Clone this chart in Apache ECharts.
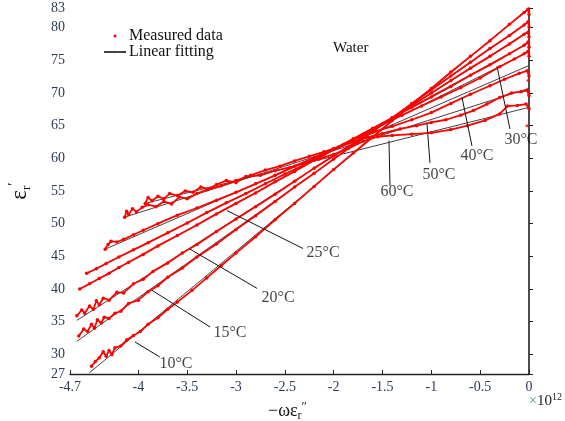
<!DOCTYPE html>
<html><head><meta charset="utf-8">
<script src="https://cdn.jsdelivr.net/npm/echarts@6/dist/echarts.min.js"></script>
<style>html,body{margin:0;padding:0;background:#fff}#c{width:565px;height:421px}</style>
</head><body><div id="c"></div>
<script>
const temps = ['10°C','15°C','20°C','25°C','30°C','40°C','50°C','60°C'];
const xTicks = [-4.7,-4.5,-4,-3.5,-3,-2.5,-2,-1.5,-1,-0.5,0];
const yTicks = [27,30,35,40,45,50,55,60,65,70,75,80,83];

const m10 = [[-4.48,28.2],[-4.44,28.9],[-4.40,29.5],[-4.36,30.4],[-4.33,29.7],[-4.30,30.6],[-4.27,30.0],[-4.24,31.0],[-4.18,31.3],[-4.12,32.2],[-4.05,32.9],[-3.98,33.5],[-3.90,34.6],[-3.80,35.6],[-3.70,36.9],[-3.60,38.0],[-3.45,39.8],[-3.30,41.7],[-3.15,43.6],[-3.00,45.5],[-2.80,48.0],[-2.60,50.6],[-2.40,53.1],[-2.20,55.7],[-2.00,58.3],[-1.80,60.8],[-1.60,63.3],[-1.40,65.8],[-1.20,68.3],[-1.00,70.7],[-0.80,73.2],[-0.60,75.6],[-0.40,78.0],[-0.20,80.5],[-0.05,82.3],[-0.01,82.8],[0,82.0]];
const m15 = [[-4.61,32.8],[-4.56,33.9],[-4.52,33.5],[-4.48,34.6],[-4.45,34.0],[-4.42,35.3],[-4.38,34.8],[-4.35,35.7],[-4.30,35.5],[-4.24,36.3],[-4.18,36.6],[-4.10,37.8],[-4.00,38.3],[-3.90,39.6],[-3.80,40.5],[-3.70,41.8],[-3.55,43.2],[-3.40,44.9],[-3.20,46.9],[-3.00,49.1],[-2.80,51.2],[-2.60,53.4],[-2.40,55.6],[-2.20,57.7],[-2.00,59.9],[-1.80,62.0],[-1.60,64.1],[-1.40,66.2],[-1.20,68.4],[-1.00,70.5],[-0.80,72.6],[-0.60,74.7],[-0.40,76.8],[-0.20,78.8],[-0.05,80.4],[-0.01,80.9],[0,80.1]];
const m20 = [[-4.63,35.9],[-4.58,36.8],[-4.55,36.3],[-4.50,37.4],[-4.46,36.9],[-4.43,38.2],[-4.40,37.6],[-4.36,38.6],[-4.30,38.3],[-4.22,39.5],[-4.15,39.4],[-4.05,40.8],[-3.95,41.5],[-3.85,42.7],[-3.70,44.0],[-3.55,45.5],[-3.40,46.8],[-3.20,48.8],[-3.00,50.7],[-2.80,52.6],[-2.60,54.5],[-2.40,56.5],[-2.20,58.5],[-2.00,60.4],[-1.80,62.3],[-1.60,64.3],[-1.40,66.2],[-1.20,68.1],[-1.00,70.0],[-0.80,71.9],[-0.60,73.8],[-0.40,75.6],[-0.20,77.5],[-0.05,79.0],[-0.01,79.3],[0,78.6]];
const m25 = [[-4.60,40.0],[-4.50,40.8],[-4.40,41.6],[-4.30,42.4],[-4.20,43.3],[-4.10,44.1],[-3.95,45.3],[-3.80,46.6],[-3.60,48.2],[-3.40,49.8],[-3.20,51.5],[-3.00,53.1],[-2.80,54.7],[-2.60,56.4],[-2.40,58.0],[-2.20,59.7],[-2.00,61.4],[-1.80,63.0],[-1.60,64.6],[-1.40,66.2],[-1.20,67.8],[-1.00,69.4],[-0.80,71.0],[-0.60,72.7],[-0.40,74.3],[-0.20,76.0],[-0.05,77.3],[-0.01,77.8],[0,77.0]];
const m30 = [[-4.53,42.4],[-4.43,43.1],[-4.33,43.9],[-4.20,44.9],[-4.05,46.0],[-3.90,47.1],[-3.70,48.6],[-3.50,50.1],[-3.30,51.7],[-3.10,53.2],[-2.90,54.6],[-2.70,56.1],[-2.50,57.6],[-2.30,59.0],[-2.10,60.5],[-1.90,62.1],[-1.70,63.7],[-1.50,65.2],[-1.30,66.6],[-1.10,68.0],[-0.90,69.4],[-0.70,70.8],[-0.50,72.3],[-0.30,74.0],[-0.15,75.2],[-0.05,76.0],[-0.01,76.4],[0,75.6]];
const m40 = [[-4.34,46.1],[-4.31,46.8],[-4.28,47.3],[-4.22,47.2],[-4.15,47.6],[-4.05,48.3],[-3.95,49.0],[-3.80,50.0],[-3.60,51.3],[-3.40,52.4],[-3.20,53.6],[-3.00,54.8],[-2.80,56.1],[-2.60,57.4],[-2.40,58.8],[-2.20,60.1],[-2.00,61.5],[-1.80,62.8],[-1.60,64.0],[-1.40,64.9],[-1.20,65.9],[-1.00,67.0],[-0.80,68.4],[-0.60,69.8],[-0.40,71.1],[-0.25,72.1],[-0.10,73.0],[-0.02,73.4],[0,72.6]];
const m50 = [[-4.14,51.0],[-4.12,51.9],[-4.10,51.4],[-4.06,52.3],[-4.02,51.8],[-3.96,52.5],[-3.90,52.9],[-3.82,52.6],[-3.74,53.4],[-3.66,53.0],[-3.58,54.1],[-3.50,53.8],[-3.40,54.6],[-3.30,55.2],[-3.15,55.8],[-3.00,56.6],[-2.85,57.4],[-2.70,58.2],[-2.55,58.8],[-2.40,59.6],[-2.25,60.3],[-2.10,61.0],[-1.95,61.7],[-1.80,62.5],[-1.65,63.2],[-1.50,63.8],[-1.32,64.5],[-1.15,65.0],[-1.00,65.5],[-0.85,65.9],[-0.70,66.6],[-0.57,67.3],[-0.43,68.3],[-0.30,69.3],[-0.18,70.0],[-0.08,70.2],[-0.02,70.4],[0,69.6]];
const m60 = [[-3.93,53.1],[-3.90,54.0],[-3.86,53.5],[-3.80,54.2],[-3.74,53.8],[-3.68,54.6],[-3.60,54.3],[-3.52,55.0],[-3.44,54.8],[-3.36,55.6],[-3.28,55.3],[-3.20,56.0],[-3.10,56.6],[-3.00,56.3],[-2.90,57.2],[-2.75,57.4],[-2.60,58.1],[-2.45,58.6],[-2.30,59.3],[-2.15,59.9],[-2.00,60.6],[-1.85,61.5],[-1.70,62.6],[-1.55,63.3],[-1.40,63.5],[-1.20,63.7],[-1.00,63.9],[-0.80,64.4],[-0.63,65.0],[-0.45,65.8],[-0.30,66.8],[-0.22,68.0],[-0.12,68.1],[-0.03,68.3],[0,67.6]];
const strayPoints = [[-0.01,71.9],[-0.02,65.0]];

const fit10 = [[-4.50,27.2],[0,83.0]];
const fit15 = [[-4.63,32.0],[0,81.0]];
const fit20 = [[-4.63,35.2],[0,79.5]];
const fit25 = [[-4.60,40.0],[0,77.7]];
const fit30 = [[-4.53,42.4],[0,76.3]];
const fit40 = [[-4.34,46.1],[0,74.2]];
const fit50 = [[-4.14,51.0],[0,70.7]];
const fit60 = [[-3.93,53.1],[0,67.8]];

const labelPos = [[-3.615,28.5],[-3.062,33.3],[-2.57,38.7],[-2.109,45.5],[-0.082,62.9],[-0.533,60.4],[-0.922,57.5],[-1.352,54.9]];
const leaders = [
  [[-3.78,29.6],[-4.034,31.9]],
  [[-3.266,34.2],[-3.86,39.8]],
  [[-2.785,40.1],[-3.471,46.1]],
  [[-2.314,46.2],[-3.092,52.0]],
  [[-0.195,64.5],[-0.328,74.1]],
  [[-0.584,61.9],[-0.686,69.3]],
  [[-1.014,59.3],[-1.045,65.4]],
  [[-1.423,55.8],[-1.434,62.7]]
];

const measured = [m10,m15,m20,m25,m30,m40,m50,m60];
const fits = [fit10,fit15,fit20,fit25,fit30,fit40,fit50,fit60];
const SERIF = 'Liberation Serif';
const RED = '#ff0000';
const series = [];
fits.forEach((d,i)=>{
  series.push({name: i===0?'Linear fitting':'f'+i, type:'line', data:d, symbol:'none',
    lineStyle:{color:'#444',width:1}, itemStyle:{color:'#444'}, z:2, silent:true, animation:false});
});
measured.forEach((d,i)=>{
  series.push({name: i===0?'Measured data':'m'+i, type:'line', data:d, symbol:'circle', symbolSize:3.5,
    showAllSymbol:true, itemStyle:{color:RED}, lineStyle:{color:RED,width:1.8}, z:3, silent:true, animation:false});
});
series.push({name:'stray', type:'scatter', data:strayPoints, symbolSize:3, itemStyle:{color:RED}, z:3, silent:true, animation:false});
leaders.forEach((d,i)=>{
  series.push({name:'l'+i, type:'line', data:d, symbol:'none', lineStyle:{color:'#111',width:1}, z:4, silent:true, animation:false});
});
series.push({name:'labels', type:'scatter', symbolSize:0, silent:true, animation:false, z:5,
  data: labelPos.map((p,i)=>({value:p, name:temps[i]})),
  label:{show:true, position:'inside', formatter:'{b}', color:'#111', fontFamily:SERIF, fontSize:16}});

const chart = echarts.init(document.getElementById('c'), null, {renderer:'canvas'});
chart.setOption({
  animation:false,
  backgroundColor:'#fff',
  grid:{left:70, right:36, top:8, bottom:47, containLabel:false, outerBoundsMode:'none'},
  legend:{
    orient:'vertical', left:98, top:23, itemWidth:22, itemHeight:3, itemGap:0,
    selectedMode:false,
    textStyle:{fontFamily:SERIF, fontSize:16, color:'#111', lineHeight:15, padding:[0,0,0,-2]},
    data:[{name:'Measured data', icon:'circle'}, {name:'Linear fitting'}]
  },
  xAxis:{type:'value', min:-4.7, max:0,
    axisLine:{show:true, lineStyle:{color:'#222', width:1.3}},
    axisTick:{show:true, inside:true, length:4, customValues:xTicks, lineStyle:{color:'#222'}},
    axisLabel:{customValues:xTicks, showMinLabel:true, showMaxLabel:true, hideOverlap:false, margin:6, fontFamily:SERIF, fontSize:14, color:'#2d3a55'},
    splitLine:{show:false},
    name:'{m|−ωε}{s|r}{p|″}', nameLocation:'middle', nameGap:26,
    nameTextStyle:{padding:[0,24,0,0], rich:{
      m:{fontFamily:SERIF, fontSize:18, color:'#111', lineHeight:22},
      s:{fontFamily:SERIF, fontSize:12, color:'#111', verticalAlign:'bottom', lineHeight:12},
      p:{fontFamily:SERIF, fontSize:13, color:'#111', verticalAlign:'top', lineHeight:13}}}
  },
  yAxis:{type:'value', min:27, max:83,
    axisLine:{show:true, lineStyle:{color:'#111', width:1.5}},
    axisTick:{show:true, inside:true, length:4, customValues:yTicks, lineStyle:{color:'#222'}},
    axisLabel:{customValues:yTicks, showMinLabel:true, showMaxLabel:true, margin:5, fontFamily:SERIF, fontSize:14, color:'#2d3a55'},
    splitLine:{show:false},
    name:'{e|ε}{s|r}{p|′}', nameLocation:'middle', nameRotate:90, nameGap:37,
    nameTextStyle:{rich:{
      e:{fontFamily:SERIF, fontSize:23, color:'#111', lineHeight:26},
      s:{fontFamily:SERIF, fontSize:13, color:'#111', verticalAlign:'bottom', lineHeight:13},
      p:{fontFamily:SERIF, fontSize:15, color:'#111', verticalAlign:'top', lineHeight:15}}}
  },
  graphic:[
    {type:'text', left:333, top:41, style:{text:'Water', fontFamily:SERIF, fontSize:15, fill:'#111'}},
    {type:'text', right:3, top:392, style:{text:'{a|×}{b|10}{c|12}', rich:{
      a:{fontFamily:SERIF, fontSize:14, fill:'#4a8a9a', lineHeight:18},
      b:{fontFamily:SERIF, fontSize:15, fill:'#222', lineHeight:18},
      c:{fontFamily:SERIF, fontSize:10, fill:'#222', verticalAlign:'top', lineHeight:10}}}}
  ],
  series: series
});
</script></body></html>
